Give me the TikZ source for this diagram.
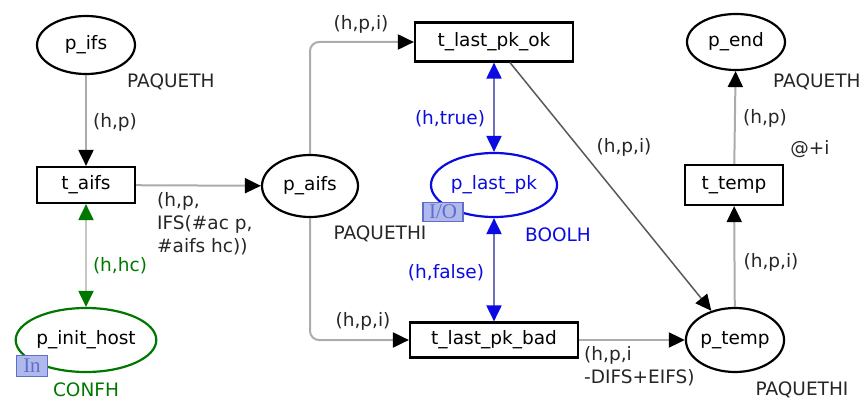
\documentclass[tikz,border=0pt]{standalone}
\usepackage{fontspec}
\setmainfont{DejaVu Sans}
\newfontfamily\tagfont{Liberation Serif}
\usetikzlibrary{arrows.meta}
\usetikzlibrary{calc}
\usetikzlibrary{shapes.geometric}
\definecolor{netgreen}{RGB}{0,120,0}
\definecolor{netblue}{RGB}{10,10,225}
\definecolor{tagfill}{RGB}{175,185,235}
\definecolor{tagline}{RGB}{95,110,205}

\begin{document}
\begin{tikzpicture}[x=1pt,y=-1pt,font=\fontsize{18.5}{23}\selectfont,
  place/.style={ellipse,draw,line width=2.2pt,inner sep=0pt},
  trans/.style={rectangle,draw,line width=2.2pt,inner sep=0pt},
  arc/.style={draw=gray!65,line width=2pt,-{Triangle[length=16pt,width=15pt,color=black]}},
  garc/.style={draw=gray!45,line width=2pt,{Triangle[length=16pt,width=15pt,color=netgreen]}-{Triangle[length=16pt,width=15pt,color=netgreen]}},
  barc/.style={draw=netblue!45!gray!80,line width=2pt,{Triangle[length=16pt,width=15pt,color=netblue]}-{Triangle[length=16pt,width=15pt,color=netblue]}},
  lbl/.style={text=black!85,inner sep=0pt},
  tag/.style={draw=tagline,fill=tagfill,text=tagline,inner sep=0pt,line width=1.2pt,font=\tagfont\fontsize{21}{21}\selectfont}]
\useasboundingbox (0,0) rectangle (868,412);
% places
\node[place,minimum width=98pt,minimum height=58pt] (p_ifs) at (86,45) {p\_ifs};
\node[place,minimum width=96pt,minimum height=62pt] (p_aifs) at (310,186) {p\_aifs};
\node[place,draw=netgreen,minimum width=138pt,minimum height=64pt] (p_init_host) at (86,340) {p\_init\_host};
\node[place,draw=netblue,text=netblue,minimum width=126pt,minimum height=64pt] (p_last_pk) at (494,185) {p\_last\_pk};
\node[place,minimum width=96pt,minimum height=64pt] (p_temp) at (735,340) {p\_temp};
\node[place,minimum width=98pt,minimum height=56pt] (p_end) at (736,42) {p\_end};
% transitions
\node[trans,minimum width=98pt,minimum height=36pt] (t_aifs) at (86,185) {t\_aifs};
\node[trans,minimum width=158pt,minimum height=39pt] (t_last_pk_ok) at (494,42) {t\_last\_pk\_ok};
\node[trans,minimum width=168pt,minimum height=35pt] (t_last_pk_bad) at (494,340) {t\_last\_pk\_bad};
\node[trans,minimum width=98pt,minimum height=40pt] (t_temp) at (734,185) {t\_temp};
% port tags
\node[tag,minimum width=31pt,minimum height=21pt] (in_tag) at (32,366) {In};
\node[tag,minimum width=40pt,minimum height=19pt] (io_tag) at (443,212) {I/O};
% arcs
\draw[arc] (p_ifs) -- (t_aifs);
\draw[arc] (t_aifs) -- (p_aifs);
\draw[arc,rounded corners=9pt] (p_aifs.north) |- (t_last_pk_ok.west);
\draw[arc,rounded corners=9pt] (p_aifs.south) |- (t_last_pk_bad.west);
\draw[arc,draw=black!65,line width=1.5pt] ($(t_last_pk_ok.south)+(16,0)$) -- (p_temp);
\draw[arc] (t_last_pk_bad) -- (p_temp);
\draw[arc] (p_temp) -- (t_temp);
\draw[arc] (t_temp) -- (p_end);
\draw[garc] (t_aifs) -- (p_init_host);
\draw[barc] (t_last_pk_ok) -- (p_last_pk);
\draw[barc] (p_last_pk) -- (t_last_pk_bad);
% colour sets
\node[lbl,anchor=west] (cs_ifs) at (127,82) {PAQUETH};
\node[lbl] (cs_aifs) at (380,234) {PAQUETHI};
\node[lbl,text=netgreen] (cs_init) at (86,390) {CONFH};
\node[lbl,text=netblue] (cs_last) at (558,235) {BOOLH};
\node[lbl] (cs_temp) at (802,390) {PAQUETHI};
\node[lbl,anchor=west] (cs_end) at (773,82) {PAQUETH};
% inscriptions
\node[lbl] (e_ifs) at (115,122) {(h,p)};
\node[lbl,anchor=north west,align=left] (e_aifs) at (157,192) {(h,p,\\IFS(\#ac p,\\\#aifs hc))};
\node[lbl,text=netgreen] (e_init) at (120,266) {(h,hc)};
\node[lbl] (e_ok) at (361,24) {(h,p,i)};
\node[lbl] (e_bad) at (363,321) {(h,p,i)};
\node[lbl,text=netblue] (e_true) at (450,119) {(h,true)};
\node[lbl,text=netblue] (e_false) at (446,273) {(h,false)};
\node[lbl] (e_diag) at (624,147) {(h,p,i)};
\node[lbl,anchor=north west,align=left] (e_delay) at (584,346) {(h,p,i\\-DIFS+EIFS)};
\node[lbl] (e_temp) at (771,262) {(h,p,i)};
\node[lbl] (e_end) at (765,118) {(h,p)};
\node[lbl] (e_time) at (810,149) {@+i};
\end{tikzpicture}
\end{document}
